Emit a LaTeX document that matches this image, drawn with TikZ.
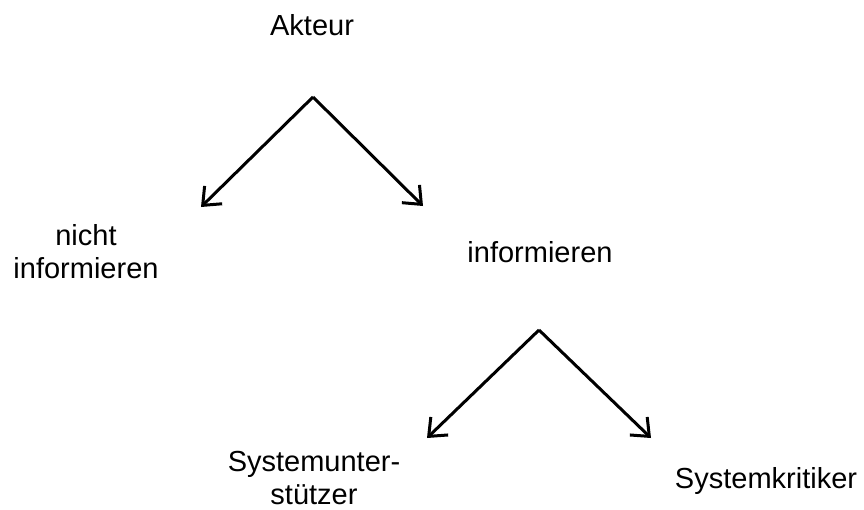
\documentclass[tikz,border=0pt]{standalone}
\usepackage{fontspec}
\setmainfont{Liberation Sans}
\usetikzlibrary{arrows.meta}
\begin{document}
\begin{tikzpicture}[x=1pt,y=-1pt,
  lbl/.style={inner sep=0pt,anchor=base,align=center,font=\fontsize{29}{33}\selectfont},
  conn/.style={line width=3pt,-{Straight Barb[length=15pt,width=25pt,line width=3pt]}}]
\useasboundingbox (0,0) rectangle (864,509);
\node[lbl] (akteur) at (312,35) {Akteur};
\node[lbl] (nicht) at (86,278) {nicht\\informieren};
\node[lbl] (inf) at (540,262) {informieren};
\node[lbl] (stuetz) at (314,504) {Systemunter-\\stützer};
\node[lbl] (krit) at (766,488) {Systemkritiker};
\coordinate (apexA) at (313,97);
\coordinate (tipAL) at (201,207);
\coordinate (tipAR) at (423,206);
\coordinate (apexB) at (539,330);
\coordinate (tipBL) at (427,438);
\coordinate (tipBR) at (651,438);
\draw[conn] (apexA) -- (tipAL);
\draw[conn] (apexA) -- (tipAR);
\draw[conn] (apexB) -- (tipBL);
\draw[conn] (apexB) -- (tipBR);
\end{tikzpicture}
\end{document}
